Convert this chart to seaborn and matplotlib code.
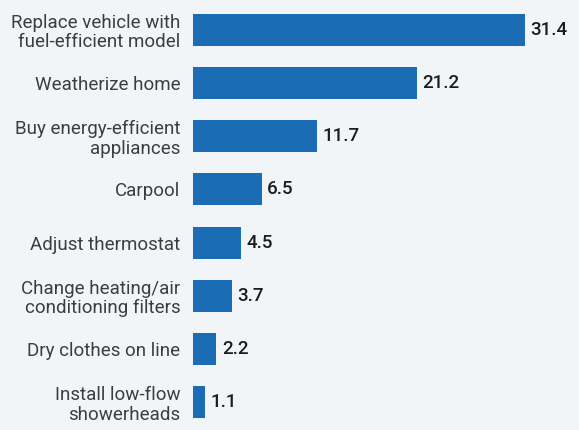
import matplotlib
matplotlib.use("Agg")
import matplotlib.pyplot as plt
import seaborn as sns
import pandas as pd

actions = [
    "Replace vehicle with\nfuel-efficient model",
    "Weatherize home",
    "Buy energy-efficient\nappliances",
    "Carpool",
    "Adjust thermostat",
    "Change heating/air\nconditioning filters",
    "Dry clothes on line",
    "Install low-flow\nshowerheads",
]
savings = [31.4, 21.2, 11.7, 6.5, 4.5, 3.7, 2.2, 1.1]

sns.set_theme(style="white")
plt.rcParams["font.family"] = ["Roboto", "DejaVu Sans"]

bg = "#f2f5f8"
bar_color = "#1a6db5"

df = pd.DataFrame({"action": actions, "savings": savings})

fig = plt.figure(figsize=(5.79, 4.30), dpi=100, facecolor=bg)
ax = fig.add_axes([193 / 579, 1 / 430, 1 - 193 / 579 - 0.01, 1 - 4 / 430])
ax.set_facecolor(bg)

sns.barplot(data=df, x="savings", y="action", color=bar_color, width=0.6,
            saturation=1, linewidth=0, ax=ax, orient="h")

ax.set_xlim(0, 36)
ax.set_ylim(7.5, -0.5)
ax.set_xlabel("")
ax.set_ylabel("")
ax.set_xticks([])
for s in ax.spines.values():
    s.set_visible(False)
ax.tick_params(axis="y", length=0, pad=9, labelsize=13.5, labelcolor="#3d3d3d")
for lab in ax.get_yticklabels():
    lab.set_horizontalalignment("right")
    lab.set_linespacing(1.1)

for bar, v in zip(ax.patches, savings):
    ax.annotate(f"{v}", (bar.get_width(), bar.get_y() + bar.get_height() / 2),
                xytext=(4, 0), textcoords="offset points", va="center", ha="left",
                fontsize=13.5, fontweight="medium", color="#1c1c1c")

fig.savefig("out.png", dpi=100, facecolor=bg)
